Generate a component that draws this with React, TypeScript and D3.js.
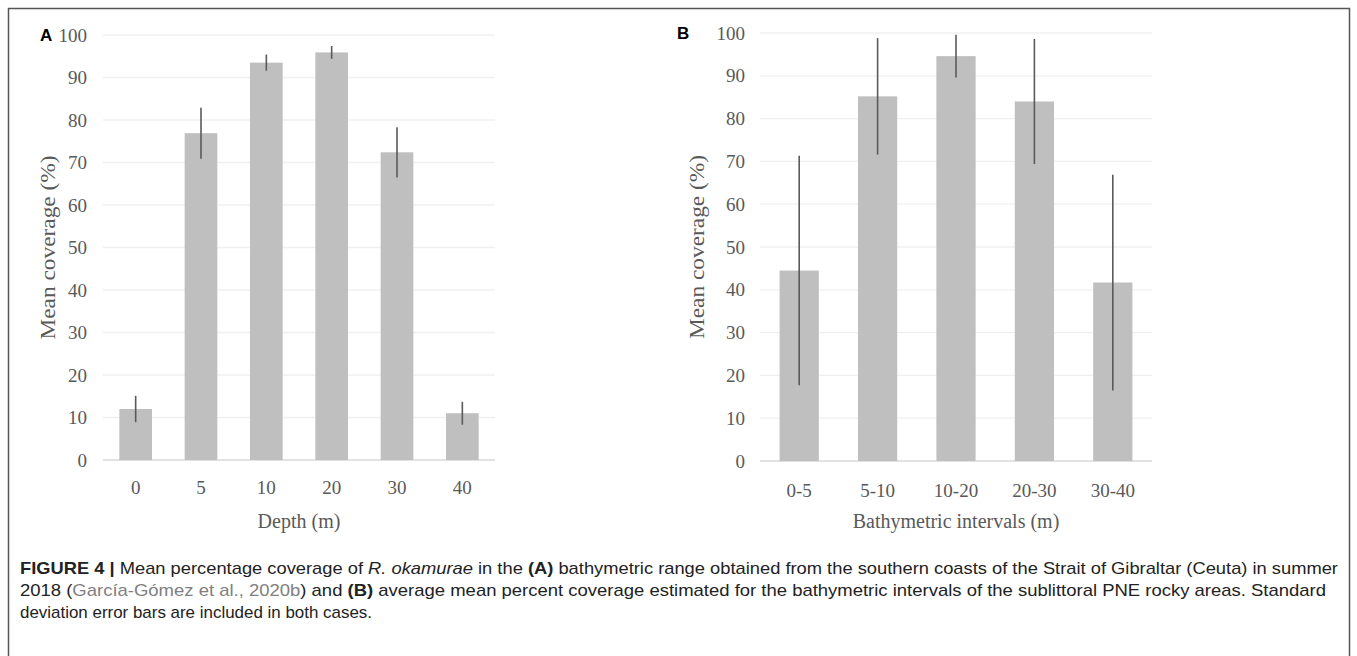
import React from "react";
import * as d3 from "d3";

// Panel A: coverage by sampled depth
const depthLabels = ["0", "5", "10", "20", "30", "40"];
const depthMeans = [12, 76.9, 93.5, 95.9, 72.4, 11];
const depthSd = [3.1, 6.0, 1.9, 1.5, 5.9, 2.7];

// Panel B: coverage by bathymetric interval
const intervalLabels = ["0-5", "5-10", "10-20", "20-30", "30-40"];
const intervalMeans = [44.5, 85.2, 94.6, 84.0, 41.7];
const intervalSd = [26.8, 13.6, 5.0, 14.6, 25.2];

const yTicks = [0, 10, 20, 30, 40, 50, 60, 70, 80, 90, 100];

const W = 1357;
const H = 656;

const SERIF = "'Liberation Serif', 'Times New Roman', serif";
const SANS = "'Liberation Sans', Arial, Helvetica, sans-serif";
const AXIS_TEXT = "#595959";
const BAR_FILL = "#bfbfbf";
const ERR = "#5a5a5a";

type PanelProps = {
  letter: string;
  letterX: number;
  labels: string[];
  means: number[];
  sds: number[];
  left: number;
  right: number;
  top: number;
  bottom: number;
  tickRight: number;
  titleX: number;
  xTitle: string;
  xTitleY: number;
  tickY: number;
};

function Panel(p: PanelProps) {
  const x = d3
    .scaleBand<string>()
    .domain(p.labels)
    .range([p.left, p.right])
    .paddingInner(0.5)
    .paddingOuter(0.25);
  const y = d3.scaleLinear().domain([0, 100]).range([p.bottom, p.top]);
  const bw = x.bandwidth();
  const midY = (p.top + p.bottom) / 2;
  return (
    <g>
      {yTicks.map((t) => (
        <line
          key={"g" + t}
          x1={p.left}
          x2={p.right}
          y1={y(t)}
          y2={y(t)}
          stroke={t === 0 ? "#d9d9d9" : "#f0f0f0"}
          strokeWidth={1.3}
        />
      ))}
      {yTicks.map((t) => (
        <text
          key={"t" + t}
          x={p.tickRight}
          y={y(t)}
          dy="0.35em"
          textAnchor="end"
          fontFamily={SERIF}
          fontSize={19}
          fill={AXIS_TEXT}
        >
          {t}
        </text>
      ))}
      {p.labels.map((c, i) => (
        <rect
          key={"b" + c}
          x={x(c)!}
          y={y(p.means[i])}
          width={bw}
          height={y(0) - y(p.means[i])}
          fill={BAR_FILL}
        />
      ))}
      {p.labels.map((c, i) => (
        <line
          key={"e" + c}
          x1={x(c)! + bw / 2}
          x2={x(c)! + bw / 2}
          y1={y(p.means[i] + p.sds[i])}
          y2={y(p.means[i] - p.sds[i])}
          stroke={ERR}
          strokeWidth={1.6}
        />
      ))}
      {p.labels.map((c) => (
        <text
          key={"x" + c}
          x={x(c)! + bw / 2}
          y={p.tickY}
          dy="0.35em"
          textAnchor="middle"
          fontFamily={SERIF}
          fontSize={19}
          fill={AXIS_TEXT}
        >
          {c}
        </text>
      ))}
      <text
        transform={`translate(${p.titleX},${midY}) rotate(-90)`}
        textAnchor="middle"
        dy="0.35em"
        fontFamily={SERIF}
        fontSize={21}
        textLength={184}
        lengthAdjust="spacingAndGlyphs"
        fill={AXIS_TEXT}
      >
        Mean coverage (%)
      </text>
      <text
        x={(p.left + p.right) / 2}
        y={p.xTitleY}
        dy="0.35em"
        textAnchor="middle"
        fontFamily={SERIF}
        fontSize={20}
        fill={AXIS_TEXT}
      >
        {p.xTitle}
      </text>
      <text
        x={p.letterX}
        y={p.top}
        dy="0.35em"
        fontFamily={SANS}
        fontWeight="bold"
        fontSize={17}
        fill="#000"
      >
        {p.letter}
      </text>
    </g>
  );
}

export default function App() {
  return (
    <div style={{ position: "absolute", left: 0, top: 0 }}>
      <svg width={W} height={H} style={{ display: "block", background: "#fff" }}>
        {/* figure frame */}
        <path d={`M8.5,${H} V8.5 H1349.5 V${H}`} fill="none" stroke="#555" strokeWidth={1.5} />
        <Panel
          letter="A"
          letterX={40}
          labels={depthLabels}
          means={depthMeans}
          sds={depthSd}
          left={103}
          right={495}
          top={35}
          bottom={460}
          tickRight={87}
          titleX={48}
          xTitle="Depth (m)"
          xTitleY={521}
          tickY={487}
        />
        <Panel
          letter="B"
          letterX={677}
          labels={intervalLabels}
          means={intervalMeans}
          sds={intervalSd}
          left={760}
          right={1152}
          top={33}
          bottom={461}
          tickRight={745}
          titleX={697}
          xTitle="Bathymetric intervals (m)"
          xTitleY={521}
          tickY={490}
        />
        {/* caption, each line set to its column width */}
        <g fontFamily={SANS} fontSize={17} fill="#222">
          <text x={20} y={568} dy="0.35em" textLength={1318} lengthAdjust="spacingAndGlyphs">
            <tspan fontWeight="bold">FIGURE 4 | </tspan>
            <tspan>Mean percentage coverage of </tspan>
            <tspan fontStyle="italic">R. okamurae</tspan>
            <tspan> in the </tspan>
            <tspan fontWeight="bold">(A)</tspan>
            <tspan> bathymetric range obtained from the southern coasts of the Strait of Gibraltar (Ceuta) in summer</tspan>
          </text>
          <text x={20} y={590} dy="0.35em" textLength={1306} lengthAdjust="spacingAndGlyphs">
            <tspan>2018 (</tspan>
            <tspan fill="#808080">García-Gómez et al., 2020b</tspan>
            <tspan>) and </tspan>
            <tspan fontWeight="bold">(B)</tspan>
            <tspan> average mean percent coverage estimated for the bathymetric intervals of the sublittoral PNE rocky areas. Standard</tspan>
          </text>
          <text x={20} y={612} dy="0.35em" textLength={352} lengthAdjust="spacingAndGlyphs">
            deviation error bars are included in both cases.
          </text>
        </g>
      </svg>
    </div>
  );
}
